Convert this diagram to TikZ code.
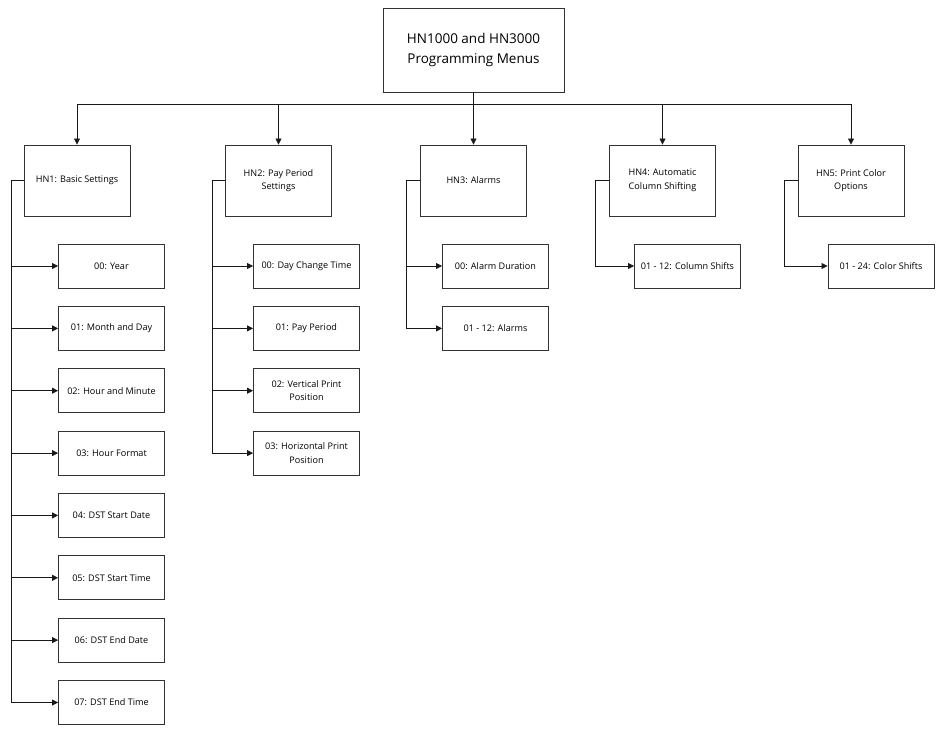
\documentclass[tikz,border=0pt]{standalone}
\usepackage{fontspec}
\setmainfont{Open Sans}
\usetikzlibrary{arrows.meta}
\begin{document}
\begin{tikzpicture}[x=1pt,y=-1pt,
  box/.style={draw=black!80, line width=0.9pt, fill=white, align=center, inner sep=0pt,
     font=\fontsize{9.1}{13.5}\selectfont},
  topbox/.style={box, minimum width=181pt, minimum height=84pt, font=\fontsize{13.5}{19.5}\selectfont},
  parbox/.style={box, minimum width=106pt, minimum height=71pt},
  kidbox/.style={box, minimum width=106pt, minimum height=44pt},
  arr/.style={draw=black!90, line width=0.8pt, -{Triangle[length=6pt,width=6pt]}}
]
\useasboundingbox (0,0) rectangle (942,736);
\fill[white] (0,0) rectangle (942,736);

\node[topbox] (top) at (473.5,50) {HN1000 and HN3000\\Programming Menus};

\node[parbox] (hn1) at (77,180.5) {HN1: Basic Settings};
\node[parbox] (hn2) at (278.5,180.5) {HN2: Pay Period\\Settings};
\node[parbox] (hn3) at (473.5,180.5) {HN3: Alarms};
\node[parbox] (hn4) at (662.5,180.5) {HN4: Automatic\\Column Shifting};
\node[parbox] (hn5) at (851,180.5) {HN5: Print Color\\Options};

% HN1 children
\node[kidbox] (a0) at (111.5,266) {00: Year};
\node[kidbox] (a1) at (111.5,328.4) {01: Month and Day};
\node[kidbox] (a2) at (111.5,390.7) {02: Hour and Minute};
\node[kidbox] (a3) at (111.5,453.1) {03: Hour Format};
\node[kidbox] (a4) at (111.5,515.4) {04: DST Start Date};
\node[kidbox] (a5) at (111.5,577.8) {05: DST Start Time};
\node[kidbox] (a6) at (111.5,640.1) {06: DST End Date};
\node[kidbox] (a7) at (111.5,702.5) {07: DST End Time};

% HN2 children
\node[kidbox] (b0) at (306.5,266) {00: Day Change Time};
\node[kidbox] (b1) at (306.5,328.4) {01: Pay Period};
\node[kidbox] (b2) at (306.5,390.7) {02: Vertical Print\\Position};
\node[kidbox] (b3) at (306.5,453.1) {03: Horizontal Print\\Position};

% HN3 children
\node[kidbox] (c0) at (495.5,266) {00: Alarm Duration};
\node[kidbox] (c1) at (495.5,328.4) {01 - 12: Alarms};

% HN4, HN5 children
\node[kidbox] (d0) at (687.5,266) {01 - 12: Column Shifts};
\node[kidbox] (e0) at (881,266) {01 - 24: Color Shifts};

% top connectors
\foreach \p in {hn1,hn2,hn3,hn4,hn5}
  \draw[arr] (top.south) -- ++(0,12) -| (\p.north);

% child connectors
\foreach \c in {a0,a1,a2,a3,a4,a5,a6,a7}
  \draw[arr] (hn1.west) -- ++(-12,0) |- (\c.west);
\foreach \c in {b0,b1,b2,b3}
  \draw[arr] (hn2.west) -- ++(-13,0) |- (\c.west);
\foreach \c in {c0,c1}
  \draw[arr] (hn3.west) -- ++(-14,0) |- (\c.west);
\draw[arr] (hn4.west) -- ++(-14,0) |- (d0.west);
\draw[arr] (hn5.west) -- ++(-13,0) |- (e0.west);
\end{tikzpicture}
\end{document}
